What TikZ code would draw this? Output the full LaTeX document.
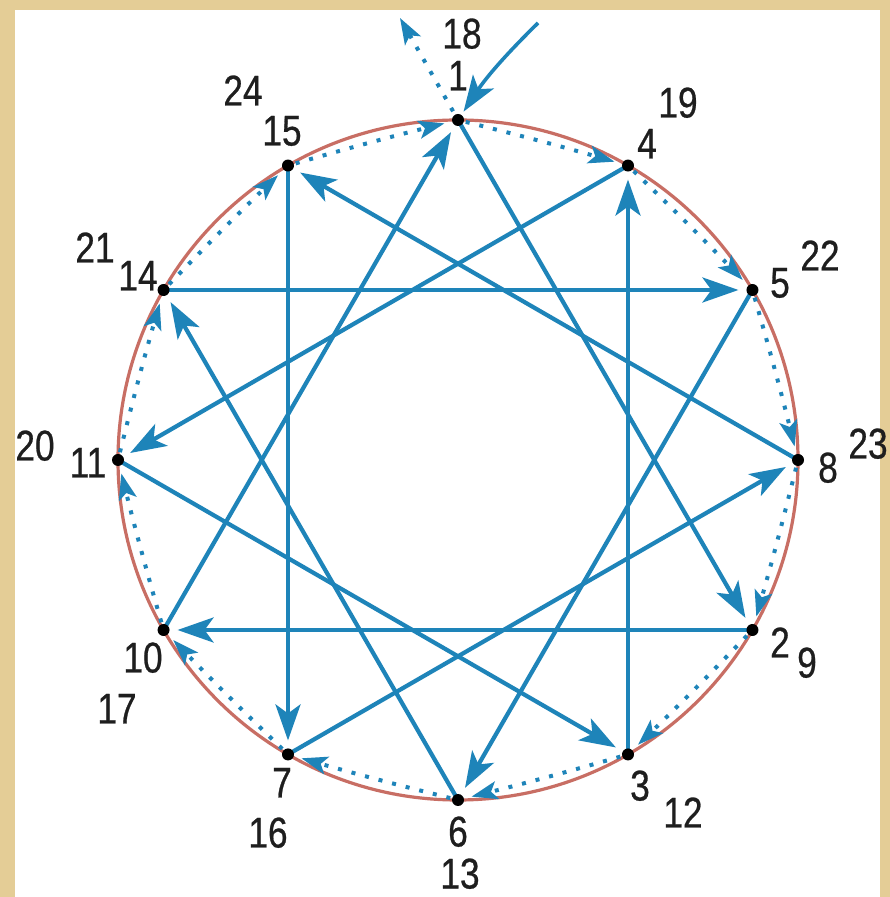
\documentclass[tikz,border=0pt]{standalone}
\usepackage{fontspec}
\newfontfamily\labfont{Liberation Sans}[FakeStretch=0.82,FakeBold=0.6]
\usetikzlibrary{arrows.meta}
\definecolor{bgbeige}{RGB}{228,205,150}
\definecolor{lineblue}{RGB}{30,132,185}
\definecolor{ringred}{RGB}{200,110,100}
\definecolor{labgray}{RGB}{30,30,30}
\begin{document}
\begin{tikzpicture}[x=1pt,y=1pt,
  solidarrow/.style={draw=lineblue, line width=4.2pt, -{Stealth[length=36pt,width=25pt,inset=9pt]}, shorten >=14pt},
  dotarrow/.style={draw=lineblue, line width=4pt, dash pattern=on 4pt off 10pt, -{Stealth[length=26pt,width=18pt,inset=6pt]}, shorten >=14pt, shorten <=8pt},
  ptdot/.style={circle, fill=black, inner sep=0pt, minimum size=12pt},
  lab/.style={text=labgray, font=\labfont\fontsize{43}{43}\selectfont, inner sep=0pt, text height=31pt, text depth=0pt}
]
\fill[bgbeige] (0,0) rectangle (890,897);
\fill[white] (15,0) rectangle (880,887);
\useasboundingbox (0,0) rectangle (890,897);

\coordinate (c) at (458,437);
\path (c) ++(90:340) coordinate (p1);
\path (c) ++(60:340) coordinate (p4);
\path (c) ++(30:340) coordinate (p5);
\path (c) ++(0:340) coordinate (p8);
\path (c) ++(-30:340) coordinate (p2);
\path (c) ++(-60:340) coordinate (p3);
\path (c) ++(-90:340) coordinate (p6);
\path (c) ++(-120:340) coordinate (p7);
\path (c) ++(-150:340) coordinate (p10);
\path (c) ++(180:340) coordinate (p11);
\path (c) ++(150:340) coordinate (p14);
\path (c) ++(120:340) coordinate (p15);

\draw[ringred, line width=3.2pt] (c) circle[radius=340pt];

% dotted steps along the circle (clockwise)
\draw[dotarrow] (p1) to[bend left=1] (p4);
\draw[dotarrow] (p4) to[bend left=1] (p5);
\draw[dotarrow] (p5) to[bend left=1] (p8);
\draw[dotarrow] (p8) to[bend left=1] (p2);
\draw[dotarrow] (p2) to[bend left=1] (p3);
\draw[dotarrow] (p3) to[bend left=1] (p6);
\draw[dotarrow] (p6) to[bend left=1] (p7);
\draw[dotarrow] (p7) to[bend left=1] (p10);
\draw[dotarrow] (p10) to[bend left=1] (p11);
\draw[dotarrow] (p11) to[bend left=1] (p14);
\draw[dotarrow] (p14) to[bend left=1] (p15);
\draw[dotarrow] (p15) to[bend left=1] (p1);

% solid jumps
\draw[solidarrow] (p1) -- (p2);
\draw[solidarrow] (p3) -- (p4);
\draw[solidarrow] (p5) -- (p6);
\draw[solidarrow] (p7) -- (p8);
\draw[solidarrow] (p2) -- (p10);
\draw[solidarrow] (p11) -- (p3);
\draw[solidarrow] (p6) -- (p14);
\draw[solidarrow] (p15) -- (p7);
\draw[solidarrow] (p10) -- (p1);
\draw[solidarrow] (p4) -- (p11);
\draw[solidarrow] (p14) -- (p5);
\draw[solidarrow] (p8) -- (p15);

% entry and exit
\coordinate (in0) at (538,874);
\coordinate (out0) at (400,879);
\draw[solidarrow, line width=3.6pt, shorten >=10pt] (in0) to[bend right=6] (p1);
\draw[dotarrow, shorten >=0pt, shorten <=10pt] (p1) -- (out0);

% points
\foreach \p in {1,4,5,8,2,3,6,7,10,11,14,15} {
  \node[ptdot] (d\p) at (p\p) {};
}

% labels
\node[lab] (l18) at (462,864) {18};
\node[lab] (l1) at (458,822) {1};
\node[lab] (l24) at (243,807) {24};
\node[lab] (l15) at (282,767) {15};
\node[lab] (l19) at (678,795) {19};
\node[lab] (l4) at (647,754) {4};
\node[lab] (l21) at (95,650) {21};
\node[lab] (l14) at (138,622) {14};
\node[lab] (l22) at (820,642) {22};
\node[lab] (l5) at (780,615) {5};
\node[lab] (l20) at (35,452) {20};
\node[lab] (l11) at (88,435) {11};
\node[lab] (l8) at (828,430) {8};
\node[lab] (l23) at (868,454) {23};
\node[lab] (l10) at (143,240) {10};
\node[lab] (l17) at (117,189) {17};
\node[lab] (l2) at (780,255) {2};
\node[lab] (l9) at (807,235) {9};
\node[lab] (l7) at (282,115) {7};
\node[lab] (l16) at (268,65) {16};
\node[lab] (l6) at (458,66) {6};
\node[lab] (l13) at (460,24) {13};
\node[lab] (l3) at (640,112) {3};
\node[lab] (l12) at (683,85) {12};
\end{tikzpicture}
\end{document}
